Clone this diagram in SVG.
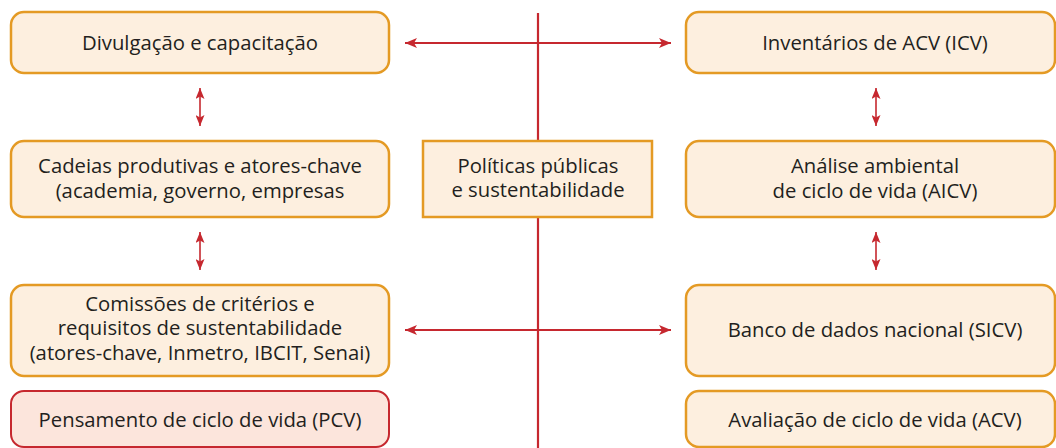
<svg xmlns="http://www.w3.org/2000/svg" width="1056" height="448" viewBox="0 0 1056 448">
<style>
.box{fill:#FDEFDF;stroke:#E49A24;stroke-width:2.5}
.pcv{fill:#FCE5DC;stroke:#C6282F;stroke-width:2}
text{font-family:"Open Sans","Liberation Sans",sans-serif;font-size:20.3px;fill:#231F20;text-anchor:middle}
.ln{stroke:#C6282F;fill:none}
.h{stroke-width:2.2;marker-start:url(#ah);marker-end:url(#ah)}
.v{stroke-width:1.6;marker-start:url(#as);marker-end:url(#as)}
</style>
<defs>
<marker id="ah" markerUnits="userSpaceOnUse" viewBox="0 0 12 10" refX="12" refY="5" markerWidth="12" markerHeight="10" orient="auto-start-reverse"><path d="M0,0 L12,5 L0,10 L3,5 Z" fill="#C6282F"/></marker>
<marker id="as" markerUnits="userSpaceOnUse" viewBox="0 0 11 9" refX="11" refY="4.5" markerWidth="11" markerHeight="9" orient="auto-start-reverse"><path d="M0,0 L11,4.5 L0,9 L2.5,4.5 Z" fill="#C6282F"/></marker>
</defs>
<g id="connectors">
<line class="ln" x1="538" y1="13" x2="538" y2="448" stroke-width="2.2"/>
<line class="ln h" x1="405" y1="43" x2="671" y2="43"/>
<line class="ln h" x1="405" y1="330" x2="671" y2="330"/>
<line class="ln v" x1="200" y1="88" x2="200" y2="126"/>
<line class="ln v" x1="200" y1="232" x2="200" y2="270"/>
<line class="ln v" x1="876" y1="88" x2="876" y2="126"/>
<line class="ln v" x1="876" y1="232" x2="876" y2="270"/>
</g>
<g id="divulgacao"><rect class="box" x="11" y="12" width="378" height="61" rx="13"/><text x="200" y="50">Divulgação e capacitação</text></g>
<g id="cadeias"><rect class="box" x="11" y="141" width="378" height="76" rx="13"/><text x="200" y="173">Cadeias produtivas e atores-chave</text><text x="200" y="197.5">(academia, governo, empresas</text></g>
<g id="comissoes"><rect class="box" x="11" y="285" width="378" height="91" rx="13"/><text x="200" y="310.5">Comissões de critérios e</text><text x="200" y="335">requisitos de sustentabilidade</text><text x="200" y="359.5">(atores-chave, Inmetro, IBCIT, Senai)</text></g>
<g id="pcv"><rect class="pcv" x="11" y="391" width="378" height="56" rx="13"/><text x="200" y="426.5">Pensamento de ciclo de vida (PCV)</text></g>
<g id="politicas"><rect class="box" x="423" y="141" width="229" height="76"/><text x="538" y="173">Políticas públicas</text><text x="538" y="197">e sustentabilidade</text></g>
<g id="icv"><rect class="box" x="686" y="12" width="369" height="61" rx="13"/><text x="875" y="50">Inventários de ACV (ICV)</text></g>
<g id="aicv"><rect class="box" x="686" y="141" width="369" height="76" rx="13"/><text x="875" y="173">Análise ambiental</text><text x="875" y="197.5">de ciclo de vida (AICV)</text></g>
<g id="sicv"><rect class="box" x="686" y="285" width="369" height="91" rx="13"/><text x="875" y="336.5">Banco de dados nacional (SICV)</text></g>
<g id="acv"><rect class="box" x="686" y="391" width="369" height="56" rx="13"/><text x="875" y="426.5">Avaliação de ciclo de vida (ACV)</text></g>
</svg>
